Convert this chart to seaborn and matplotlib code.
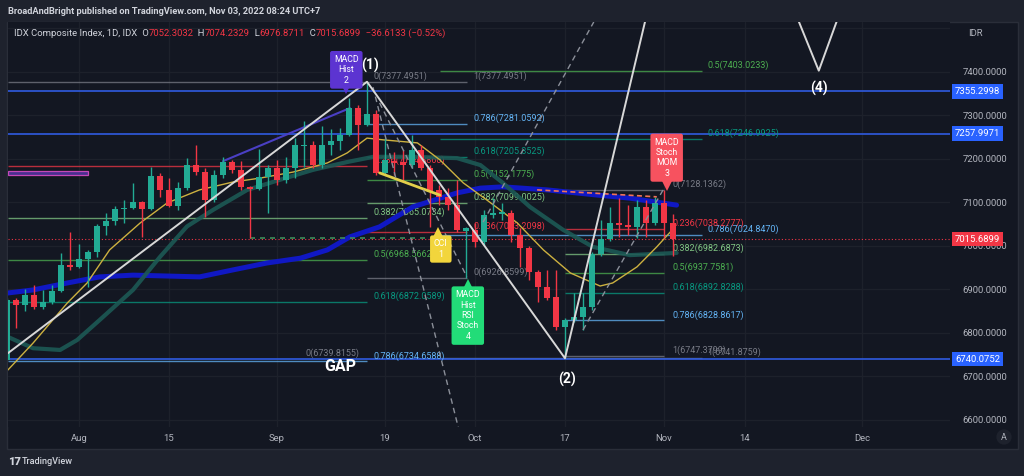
import numpy as np
import pandas as pd
import matplotlib
matplotlib.use("Agg")
import matplotlib.pyplot as plt
import matplotlib.transforms as mtransforms
from matplotlib.patches import Rectangle
from matplotlib.ticker import FuncFormatter
import seaborn as sns

# daily candles, bar 0 = Jul 20 2022 ... bar 74 = Nov 2 2022 (trading days only)
opens = [6738, 6876, 6864, 6887, 6860, 6871, 6897, 6956, 6952, 6970,
         6986, 7046, 7057, 7085, 7087, 7101, 7085, 7161, 7129, 7092,
         7133, 7186, 7170, 7106, 7163, 7193, 7175, 7136, 7131, 7159,
         7179, 7152, 7179, 7230, 7232, 7186, 7232, 7241, 7255, 7317,
         7278, 7303, 7168, 7195, 7193, 7186, 7221, 7179, 7129, 7113,
         7094, 7034, 7037, 7009, 7071, 7074, 7076, 7025, 6995, 6940,
         6906, 6883, 6814, 6830, 6837, 6860, 6982, 7016, 7053, 7048,
         7044, 7090, 7053, 7099, 7052.3032]
highs = [6880, 6880, 6901, 6910, 6899, 6910, 6984, 7032, 7005, 6991,
         7051, 7076, 7092, 7106, 7145, 7103, 7182, 7168, 7156, 7147,
         7202, 7232, 7179, 7175, 7205, 7198, 7195, 7138, 7223, 7186,
         7198, 7205, 7248, 7287, 7241, 7276, 7269, 7271, 7340, 7324,
         7377.4951, 7313, 7248, 7216, 7221, 7255, 7232, 7186, 7140, 7133,
         7152, 7044, 7053, 7083, 7110, 7099, 7083, 7041, 7000, 6945,
         6945, 6945, 6834, 6892, 6892, 6986, 7060, 7090, 7110, 7094,
         7106, 7106, 7113, 7128.1362, 7074.2329]
lows = [6738, 6811, 6850, 6855, 6855, 6867, 6894, 6945, 6950, 6906,
        6975, 7025, 7048, 7053, 7085, 7021, 7083, 7113, 7090, 7083,
        7129, 7163, 7067, 7101, 7156, 7168, 7129, 7018, 7129, 7076,
        7140, 7145, 7156, 7182, 7179, 7179, 7209, 7221, 7253, 7221,
        7276, 7163, 7163, 7163, 7152, 7179, 7175, 7044, 7094, 7083,
        7032, 6926.8599, 6998, 7002, 7064, 7060, 7009, 6952, 6922, 6871,
        6876, 6807, 6741.8759, 6825, 6807, 6853, 6977, 7011, 7021, 7025,
        7018, 7021, 7048, 7018, 6976.8711]
closes = [6876, 6864, 6887, 6860, 6871, 6897, 6956, 6952, 6970, 6986,
          7046, 7057, 7085, 7087, 7101, 7085, 7161, 7129, 7092, 7133,
          7186, 7170, 7106, 7163, 7193, 7175, 7136, 7131, 7159, 7179,
          7152, 7179, 7232, 7232, 7186, 7232, 7241, 7255, 7317, 7278,
          7303, 7168, 7198, 7191, 7186, 7221, 7179, 7124, 7113, 7094,
          7037, 7041, 7009, 7071, 7076, 7078, 7025, 6995, 6940, 6906,
          6880, 6814, 6830, 6837, 6860, 6982, 7016, 7053, 7048, 7044,
          7090, 7053, 7099, 7053, 7015.6899]

tick_pos = [8, 18, 30, 42, 52, 62, 73, 82, 95]
tick_labels = ["Aug", "15", "Sep", "19", "Oct", "17", "Nov", "14", "Dec"]

# moving averages (bar, price)
ma_fast_x = [0.1, 2.9, 6.7, 8.9, 11.4, 14.8, 17.8, 21.4, 25.1, 28.1, 31.8, 35.6, 37.8, 40.0,
             41.8, 45.6, 48.1, 50.7, 53.3, 56.7, 59.6, 62.6, 65.9, 67.3, 70.0, 72.2, 74.0]
ma_fast_y = [6715, 6777, 6869, 6915, 6991, 7053, 7099, 7129, 7147, 7156, 7170, 7191, 7214, 7248,
             7244, 7237, 7198, 7145, 7106, 7053, 6991, 6938, 6908, 6915, 6952, 6998, 7039]
ma_mid_x = [0.1, 2.9, 5.9, 7.8, 10.3, 14.0, 17.0, 20.0, 22.9, 26.7, 30.3, 34.0, 37.8, 40.7,
            45.1, 50.0, 52.6, 55.1, 58.1, 61.8, 65.1, 69.2, 74.4]
ma_mid_y = [6791, 6765, 6761, 6784, 6830, 6899, 6975, 7045, 7083, 7129, 7152, 7175, 7193, 7205,
            7205, 7202, 7186, 7145, 7090, 7037, 6998, 6979, 6984]
ma_slow_x = [0.1, 2.9, 6.7, 10.3, 14.0, 21.4, 25.1, 28.9, 32.6, 35.6, 38.1, 41.4, 45.1, 50.0,
             52.6, 55.1, 60.0, 65.6, 69.2, 74.4]
ma_slow_y = [6892, 6899, 6915, 6929, 6933, 6929, 6945, 6961, 6972, 6991, 7021, 7044, 7090, 7122,
             7133, 7136, 7129, 7117, 7110, 7094]

# elliott wave drawing (1)..(5)
wave_x = [0.0, 40, 62, 77.2, 90.2, 98]
wave_y = [6752, 7377.4951, 6741.8759, 8064.2, 7403.0, 7847]

# fibonacci retracements
fib_a = [(0, 7377.4951), (0.236, 7184.8860), (0.382, 7065.0734), (0.5, 6968.5662),
         (0.618, 6872.0589), (0.786, 6734.6588)]
fib_b = [(1, 7377.4951), (0.786, 7281.0592), (0.618, 7205.3525), (0.5, 7152.1775),
         (0.382, 7099.0025), (0.236, 7033.2098), (0, 6926.8599)]
fib_c = [(0.5, 7403.0233), (0.618, 7246.9925), (0.786, 7024.8470), (1, 6741.8759)]
fib_d = [(0, 7128.1362), (0.236, 7038.2777), (0.382, 6982.6873), (0.5, 6937.7581),
         (0.618, 6892.8288), (0.786, 6828.8617), (1, 6747.3799)]

h_levels = [7355.2998, 7257.9971, 6740.0752]
last_close = 7015.6899

BG = "#131722"
FRAME = "#1e222d"
GRID = "#1d212b"
TXT = "#b2b5be"
UP = "#22ab94"
DN = "#f23645"
BLUE = "#2962ff"
fib_cols = {0: "#787b86", 0.236: "#f23645", 0.382: "#81c784", 0.5: "#4caf50",
            0.618: "#089981", 0.786: "#64b5f6", 1: "#787b86"}

sns.set_theme(style="dark", rc={"axes.facecolor": BG, "figure.facecolor": FRAME,
                                "grid.color": GRID, "axes.edgecolor": BG})
plt.rcParams["font.family"] = ["Roboto", "DejaVu Sans"]

W, H = 1024, 476
def fx(px):
    return px / W
def fy(py):
    return 1 - py / H

fig = plt.figure(figsize=(10.24, 4.76), dpi=100)
fig.patches.append(Rectangle((fx(7), fy(449)), fx(1018 - 7), (449 - 22) / H,
                             transform=fig.transFigure, fc=BG, ec="#2a2e39", lw=1, zorder=-1))
ax = fig.add_axes([fx(8), fy(427), 942 / W, 405 / H])
ax.set_xlim(0.11, 104.78)
ax.set_ylim(6583.9, 7514.9)
for s in ax.spines.values():
    s.set_visible(False)

ax.set_yticks(np.arange(6600, 7501, 100))
ax.set_xticks(tick_pos)
ax.set_xticklabels(tick_labels)
ax.grid(True, color=GRID, lw=0.9)
ax.set_axisbelow(True)
ax.yaxis.tick_right()
ax.yaxis.set_major_formatter(FuncFormatter(lambda v, _: "" if v > 7450 else f"{v:.4f}"))
ax.tick_params(axis="y", length=0, pad=9, labelsize=6.8, labelcolor=TXT, labelright=True, labelleft=False)
ax.tick_params(axis="x", length=0, pad=5, labelsize=6.8, labelcolor=TXT)
ax.set_xlabel("")
ax.set_ylabel("")

# full width levels
for lv in h_levels:
    ax.axhline(lv, color="#2f5be0", lw=1.2, zorder=2)
ax.axhline(last_close, color=DN, lw=0.8, ls=(0, (1, 2)), zorder=2)

# purple box at the left
ax.add_patch(Rectangle((0.11, 7163), 8.9, 9, fc="#4a2f8f", ec="#c548b8", lw=0.9, zorder=2))

def draw_fib(levels, x0, x1, lab_x, show=True):
    for r, p in levels:
        c = fib_cols[r]
        ax.hlines(p, x0, x1, colors=c, lw=1, alpha=0.75, zorder=1.8)
        if show:
            ax.text(lab_x, p + 2, f"{r:g}({p:.4f})", color=c, fontsize=6.5,
                    ha="left", va="bottom", zorder=2.2, clip_on=True)

draw_fib(fib_a, 0.11, 40, 40.67)
draw_fib(fib_b, 40, 51.1, 51.8)
draw_fib(fib_c, 48.1, 77.2, 77.8)
draw_fib(fib_d, 62, 73, 73.9)
ax.text(39.2, 6742, "0(6739.8155)", color="#787b86", fontsize=6.5, ha="right", va="bottom", zorder=2.2)

# moving averages
sns.lineplot(x=ma_slow_x, y=ma_slow_y, ax=ax, color="#1018c4", linewidth=3.6, sort=False,
             estimator=None, zorder=2.5)
sns.lineplot(x=ma_mid_x, y=ma_mid_y, ax=ax, color="#1c5955", linewidth=3.0, alpha=0.9,
             sort=False, estimator=None, zorder=2.6)
sns.lineplot(x=ma_fast_x, y=ma_fast_y, ax=ax, color="#cdb140", linewidth=1.0, sort=False,
             estimator=None, zorder=2.7)

# candles
df = pd.DataFrame({"open": opens, "high": highs, "low": lows, "close": closes})
df["i"] = np.arange(len(df))
df["color"] = np.where(df["close"] >= df["open"], UP, DN)
ax.vlines(df["i"], df["low"], df["high"], colors=df["color"], lw=1, zorder=4)
body = (df["close"] - df["open"]).abs().clip(lower=2.5)
ax.bar(df["i"], body, bottom=df[["open", "close"]].min(axis=1), width=0.66,
       color=df["color"], zorder=4.1, linewidth=0)

# drawings
ax.plot([24.0, 38.1], [7195, 7317], color="#4a3fc4", lw=1.5, zorder=3)
ax.plot([41.4, 48.1], [7168, 7117], color="#e3cf4a", lw=2, zorder=4.5)
ax.plot([58.9, 72.2], [7129, 7113], color="#f0735a", lw=1.2, ls=(0, (3, 2)), zorder=4.5)
ax.hlines(7018, 27, 46.4, colors="#3d8c5a", lw=1.2, linestyles=(0, (3, 3)), zorder=3)
dash = (0, (4, 3))
for xs, ys in [([40.67, 50.3], [7365, 6570]), ([41.4, 51.1], [7329, 6929]),
               ([52.9, 65.2], [7055, 7515]), ([64.0, 72.9], [6807, 7129])]:
    ax.plot(xs, ys, color="#8b8f99", lw=1, ls=dash, zorder=4.6)
ax.plot(wave_x, wave_y, color="#d8d8d8", lw=1.4, zorder=5)

for x, y, s in [(40.3, 7414, "(1)"), (62.2, 6692, "(2)"), (90.2, 7361, "(4)")]:
    ax.text(x, y, s, color="white", fontsize=10, weight="bold", ha="center", va="center", zorder=10)
ax.text(37.0, 6724, "GAP", color="white", fontsize=11.5, weight="bold", ha="center", va="center", zorder=6)

def callout(xc, yc, text, col, tip_x, tip_y, down=True):
    ax.text(xc, yc, text, ha="center", va="center", fontsize=6.3, color="white", linespacing=1.2,
            bbox=dict(boxstyle="round,pad=0.45,rounding_size=0.25", fc=col, ec="none"), zorder=9)
    ax.plot(tip_x, tip_y, marker="v" if down else "^", ms=7, color=col, mew=0, zorder=9)

callout(37.7, 7405, "MACD\nHist\n2", "#5c34d1", 37.7, 7361, down=True)
callout(48.2, 6993, "CCI\n1", "#f2d53c", 47.9, 7033, down=False)
callout(51.2, 6840, "MACD\nHist\nRSI\nStoch\n4", "#22dc78", 51.2, 6912, down=False)
callout(73.3, 7203, "MACD\nStoch\nMOM\n3", "#f7525f", 73.3, 7139, down=True)

# price tags on the axis
tag_tr = mtransforms.blended_transform_factory(ax.transAxes, ax.transData)
for val, col in [(7355.2998, BLUE), (7257.9971, BLUE), (6740.0752, BLUE), (last_close, DN)]:
    ax.text(1.0055, val, f"{val:.4f}", transform=tag_tr, ha="left", va="center", fontsize=6.8,
            color="white", bbox=dict(boxstyle="square,pad=0.3", fc=col, ec="none"),
            clip_on=False, zorder=8)

# header / legend
fig.text(fx(8), fy(12), "BroadAndBright published on TradingView.com, Nov 03, 2022 08:24 UTC+7",
         fontsize=6.7, color="#d1d4dc", va="center", weight="bold")
t = ax.annotate("IDX Composite Index, 1D, IDX ", xy=(fx(14), fy(33)), xycoords="figure fraction",
                fontsize=6.8, color="#d1d4dc", va="center", ha="left", annotation_clip=False)
for s, c in [(" O", "#d1d4dc"), ("7052.3032", DN), ("  H", "#d1d4dc"), ("7074.2329", DN),
             ("  L", "#d1d4dc"), ("6976.8711", DN), ("  C", "#d1d4dc"), ("7015.6899", DN),
             ("  \u221236.6133 (\u22120.52%)", DN)]:
    t = ax.annotate(s, xy=(1, 0), xycoords=t, fontsize=6.8, color=c, va="bottom", ha="left",
                    annotation_clip=False)
fig.text(fx(968), fy(33), "IDR", fontsize=6.8, color=TXT, va="center")
fig.text(fx(1004), fy(437), "A", fontsize=6.5, color=TXT, va="center", ha="center",
         bbox=dict(boxstyle="circle,pad=0.35", fc="#1e222d", ec="none"))

# footer
fig.text(fx(8), fy(462), "17", fontsize=8, color="#d1d4dc", va="center", weight="heavy")
fig.text(fx(22), fy(462), "TradingView", fontsize=6.6, color="#d1d4dc", va="center", weight="medium")

fig.savefig("out.png", dpi=100, facecolor=FRAME)
